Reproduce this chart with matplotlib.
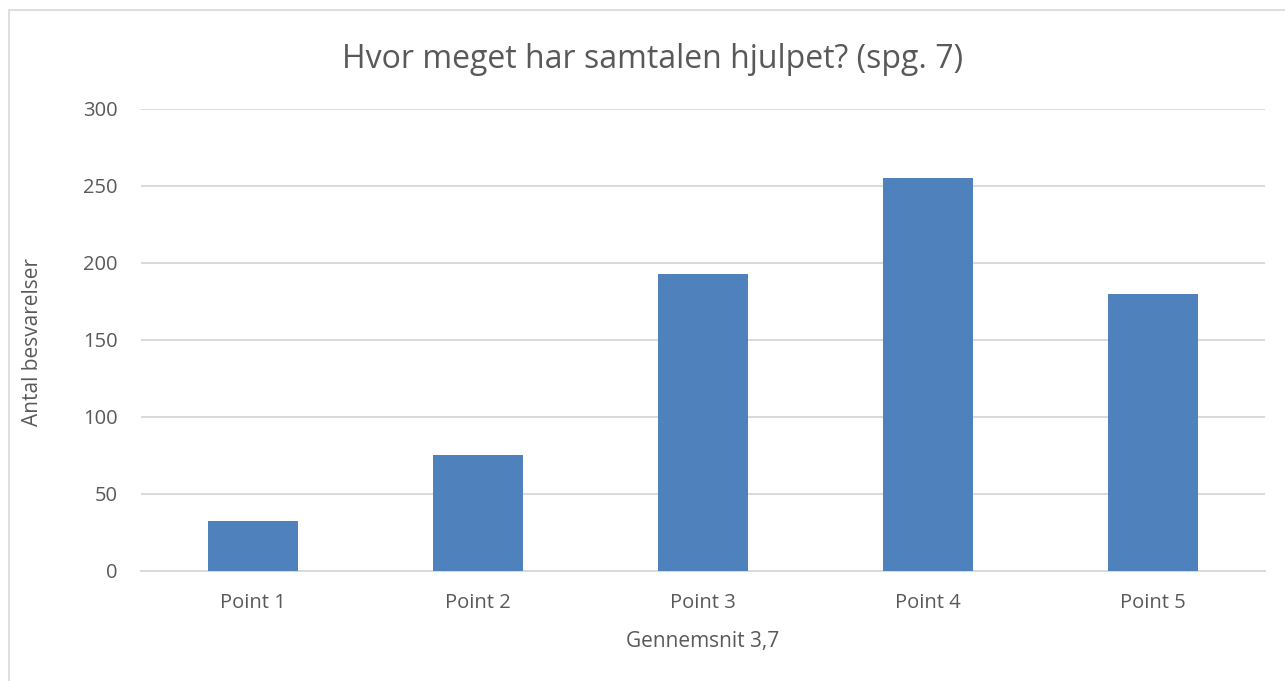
import matplotlib.pyplot as plt
from matplotlib.patches import Rectangle

# --- Data ---
categories = ['Point 1', 'Point 2', 'Point 3', 'Point 4', 'Point 5']
answers = [32, 75, 193, 255, 180]
y_ticks = [0, 50, 100, 150, 200, 250, 300]

plt.rcParams['font.family'] = ['Open Sans', 'DejaVu Sans']
text_color = '#595959'

fig = plt.figure(figsize=(12.85, 6.81), dpi=100)

# light frame around the chart area, like the original
fig.patches.append(Rectangle((9 / 1285, -0.01), 1.02, 1 - 10 / 681 + 0.01,
                             transform=fig.transFigure, fill=False,
                             edgecolor='#d9d9d9', linewidth=1.2))

ax = fig.add_axes([141 / 1285, 1 - 570.5 / 681, 1124 / 1285, 461.5 / 681])
ax.bar(range(len(categories)), answers, width=0.4, color='#4f81bd', zorder=3)

ax.set_xlim(-0.5, len(categories) - 0.5)
ax.set_ylim(0, 300)
ax.set_yticks(y_ticks)
ax.set_xticks(range(len(categories)))
ax.set_xticklabels(categories)
ax.grid(axis='y', color='#d9d9d9', linewidth=1.4, zorder=0)
ax.tick_params(length=0, labelsize=14.5, labelcolor=text_color)
ax.tick_params(axis='y', pad=17)
ax.tick_params(axis='x', pad=16)

for side in ['top', 'right', 'left']:
    ax.spines[side].set_visible(False)
ax.spines['bottom'].set_color('#d9d9d9')
ax.spines['bottom'].set_linewidth(1.4)

ax.set_xlabel('Gennemsnit 3,7', fontsize=15, color=text_color)
ax.xaxis.set_label_coords(0.5, -(641 - 570.5) / 461.5)
ax.xaxis.label.set_va('center')
ax.set_ylabel('Antal besvarelser', fontsize=15, color=text_color)
ax.yaxis.set_label_coords(-(141 - 33) / 1124, 0.5 - (342 - 339.75) / 461.5)
ax.yaxis.label.set_va('center')
fig.text(653 / 1285, 1 - 60 / 681, 'Hvor meget har samtalen hjulpet? (spg. 7)',
         ha='center', va='center', fontsize=23, color=text_color)

fig.savefig('out.png', dpi=100)
